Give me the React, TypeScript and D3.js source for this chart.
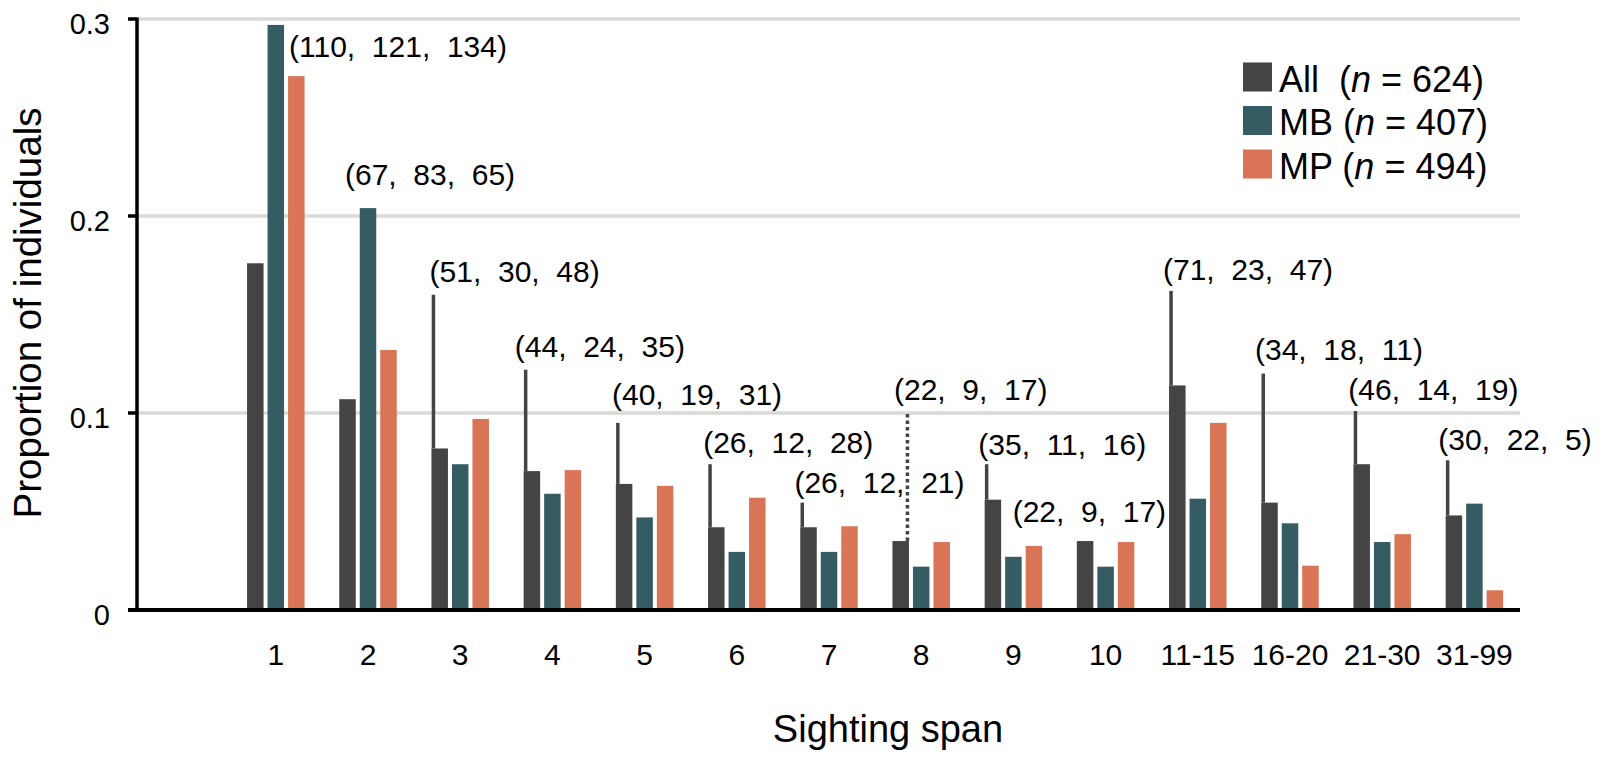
import React from "react";
import * as d3 from "d3";

// ---- data ----
const categories = ["1", "2", "3", "4", "5", "6", "7", "8", "9", "10", "11-15", "16-20", "21-30", "31-99"];
const allProp = [0.176, 0.107, 0.082, 0.0705, 0.064, 0.042, 0.042, 0.035, 0.056, 0.035, 0.114, 0.0545, 0.074, 0.048];
const mbProp = [0.297, 0.204, 0.074, 0.059, 0.047, 0.0295, 0.0295, 0.022, 0.027, 0.022, 0.0565, 0.044, 0.0345, 0.054];
const mpProp = [0.271, 0.132, 0.097, 0.071, 0.063, 0.057, 0.0425, 0.0345, 0.0325, 0.0345, 0.095, 0.0225, 0.0385, 0.01];
// upper whisker-like line above the "All" bar (null = none)
const lineTop: (number | null)[] = [null, null, 0.16, 0.122, 0.095, 0.074, 0.0545, 0.101, 0.074, null, 0.162, 0.12, 0.101, 0.076];
const lineKind = ["none", "none", "solid", "solid", "solid", "solid", "solid", "dotted", "solid", "none", "solid", "solid", "solid", "solid"];
const countLabels = [
  "(110,  121,  134)", "(67,  83,  65)", "(51,  30,  48)", "(44,  24,  35)", "(40,  19,  31)",
  "(26,  12,  28)", "(26,  12,  21)", "(22,  9,  17)", "(35,  11,  16)", "(22,  9,  17)",
  "(71,  23,  47)", "(34,  18,  11)", "(46,  14,  19)", "(30,  22,  5)",
];
const yTicks = [0, 0.1, 0.2, 0.3];
const seriesNames = ["All", "MB", "MP"];
const seriesN = [624, 407, 494];

// ---- label placement (style) ----
const labelBaseline = [0.2807, 0.2157, 0.1667, 0.1286, 0.1041, 0.0795, 0.0592, 0.1066, 0.0787, 0.0448, 0.1675, 0.1269, 0.1066, 0.0812];
const labelDx = [59.8, 23.6, 16, 9, 14, 13, 12, 19.4, 11.5, -46.3, 11.8, 11.6, 12.7, 10.5];

const COLORS = ["#444444", "#355C63", "#D97556"];
const FONT = "'Liberation Sans', Arial, Helvetica, sans-serif";

export default function App() {
  const W = 1604, H = 757;
  const x0 = 137, x1 = 1520, yTop = 19, yBase = 610;
  const x = d3.scaleBand<string>().domain(["", ...categories]).range([x0, x1]).padding(0);
  const y = d3.scaleLinear().domain([0, 0.3]).range([yBase, yTop]);
  const step = x.bandwidth();
  const barW = 16.5;
  const offsets = [-20.5, 0, 20.5];
  const series = [allProp, mbProp, mpProp];

  return (
    <svg width={W} height={H} style={{ position: "absolute", left: 0, top: 0, background: "#fff" }} fontFamily={FONT}>
      {/* gridlines */}
      {yTicks.filter((t) => t > 0).map((t) => (
        <line key={"g" + t} x1={x0} x2={x1} y1={y(t)} y2={y(t)} stroke="#d9d9d9" strokeWidth={3.5} />
      ))}
      {/* bars */}
      {categories.map((c, i) => {
        const bs = x(c)!;
        const cx = bs + step / 2 + 0.5;
        return (
          <g key={"b" + c}>
            {series.map((s, k) => (
              <rect key={k} x={cx + offsets[k] - barW / 2} y={y(s[i])} width={barW} height={yBase - y(s[i])} fill={COLORS[k]} />
            ))}
            {lineTop[i] !== null && lineKind[i] === "solid" && (
              <line
                x1={cx + offsets[0] - barW / 2 + 2}
                x2={cx + offsets[0] - barW / 2 + 2}
                y1={y(allProp[i])}
                y2={y(lineTop[i] as number)}
                stroke={COLORS[0]}
                strokeWidth={3.5}
              />
            )}
            {lineTop[i] !== null && lineKind[i] === "dotted" && (
              <line
                x1={cx + offsets[0] + barW / 2 - 1.5}
                x2={cx + offsets[0] + barW / 2 - 1.5}
                y1={y(allProp[i])}
                y2={y(lineTop[i] as number)}
                stroke={COLORS[0]}
                strokeWidth={3.5}
                strokeDasharray="3.5 3"
              />
            )}
            <text
              x={bs + labelDx[i]}
              y={y(labelBaseline[i])}
              fontSize={30}
              fill="#000"
              style={{ whiteSpace: "pre" }}
            >
              {countLabels[i]}
            </text>
            <text x={cx} y={665} fontSize={30} textAnchor="middle" fill="#000">
              {c}
            </text>
          </g>
        );
      })}
      {/* axes */}
      <line x1={x0} x2={x0} y1={yTop - 1.5} y2={yBase + 2} stroke="#000" strokeWidth={3.5} />
      <line x1={128} x2={x1} y1={yBase} y2={yBase} stroke="#000" strokeWidth={4} />
      {yTicks.map((t) => (
        <g key={"t" + t}>
          <line x1={128} x2={x0} y1={y(t)} y2={y(t)} stroke="#000" strokeWidth={3.5} />
          <text x={110} y={y(t) + 15} fontSize={29} textAnchor="end" fill="#000">
            {String(t)}
          </text>
        </g>
      ))}
      {/* axis titles */}
      <text transform="translate(41,313) rotate(-90)" fontSize={38.5} textAnchor="middle" fill="#000">
        Proportion of individuals
      </text>
      <text x={888} y={742} fontSize={38} textAnchor="middle" fill="#000">
        Sighting span
      </text>
      {/* legend */}
      {seriesNames.map((n, k) => (
        <g key={"l" + n}>
          <rect x={1243} y={62.5 + k * 43.5} width={29} height={29} fill={COLORS[k]} />
          <text x={1279} y={92 + k * 43.3} fontSize={36} fill="#000" style={{ whiteSpace: "pre" }}>
            {n === "All" ? "All  (" : n + " ("}
            <tspan fontStyle="italic">n</tspan>
            {" = " + seriesN[k] + ")"}
          </text>
        </g>
      ))}
    </svg>
  );
}
